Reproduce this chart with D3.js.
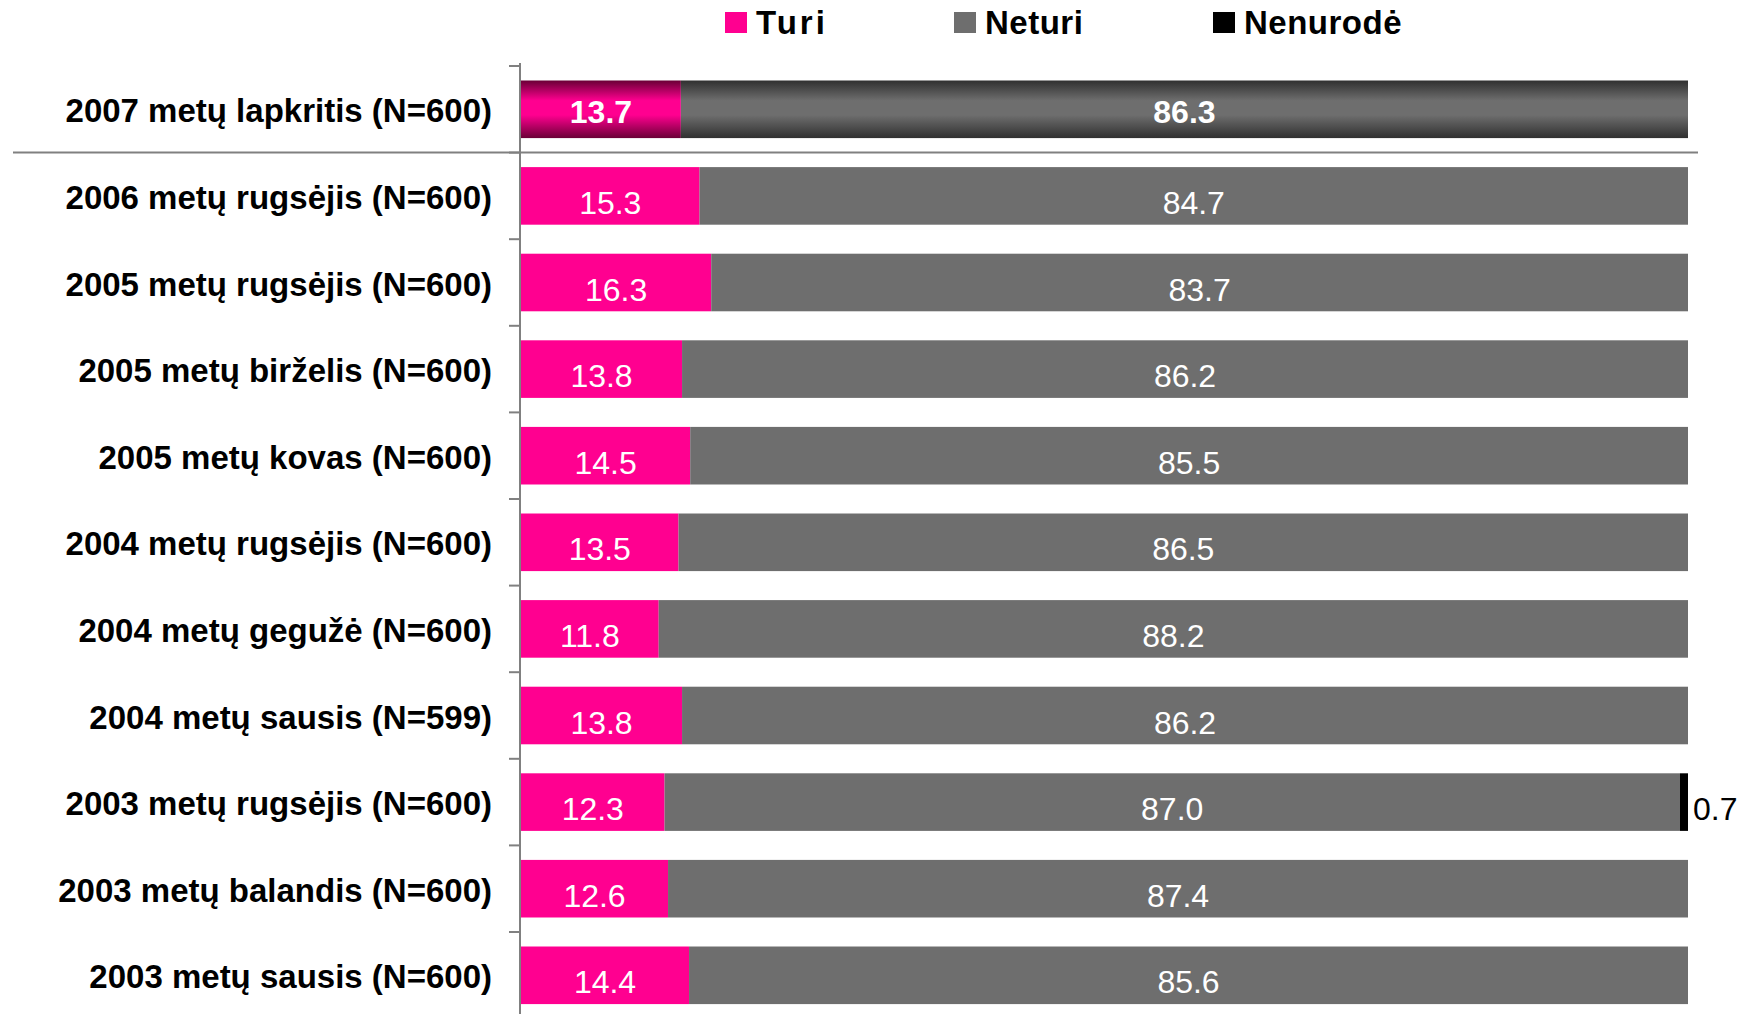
<!DOCTYPE html>
<html>
<head>
<meta charset="utf-8">
<script src="https://cdn.jsdelivr.net/npm/d3@7"></script>
<style>
  body { margin: 0; background: #fff; }
  svg text { font-family: "Liberation Sans", Arial, sans-serif; }
</style>
</head>
<body>
<div class="barChart"></div>
<script>
const categories = [
  "2007 metų lapkritis (N=600)",
  "2006 metų rugsėjis (N=600)",
  "2005 metų rugsėjis (N=600)",
  "2005 metų birželis (N=600)",
  "2005 metų kovas (N=600)",
  "2004 metų rugsėjis (N=600)",
  "2004 metų gegužė (N=600)",
  "2004 metų sausis (N=599)",
  "2003 metų rugsėjis (N=600)",
  "2003 metų balandis (N=600)",
  "2003 metų sausis (N=600)"
];
const seriesNames = ["Turi", "Neturi", "Nenurodė"];
const turi = [13.7, 15.3, 16.3, 13.8, 14.5, 13.5, 11.8, 13.8, 12.3, 12.6, 14.4];
const neturi = [86.3, 84.7, 83.7, 86.2, 85.5, 86.5, 88.2, 86.2, 87.0, 87.4, 85.6];
const nenurode = [0, 0, 0, 0, 0, 0, 0, 0, 0.7, 0, 0];
const colors = ["#ff0090", "#6e6e6e", "#000000"];

const width = 1749, height = 1014;
const margin = { top: 66, left: 521, right: 61 };

const svg = d3.select(".barChart").append("svg")
  .attr("width", width).attr("height", height);

const defs = svg.append("defs");
function addGradient(id, dark, light) {
  const g = defs.append("linearGradient").attr("id", id)
    .attr("x1", 0).attr("y1", 0).attr("x2", 0).attr("y2", 1);
  g.append("stop").attr("offset", "0%").attr("stop-color", dark);
  g.append("stop").attr("offset", "35%").attr("stop-color", light);
  g.append("stop").attr("offset", "60%").attr("stop-color", light);
  g.append("stop").attr("offset", "100%").attr("stop-color", dark);
}
addGradient("gradPink", "#6a0036", "#ff0090");
addGradient("gradGray", "#303030", "#6e6e6e");

const rows = categories.map((c, i) => ({
  cat: c, idx: i,
  vals: [turi[i], neturi[i], nenurode[i]]
}));

const x = d3.scaleLinear().domain([0, 100]).range([margin.left, width - margin.right]);
const y = d3.scaleBand().domain(categories)
  .range([margin.top, margin.top + 11 * 86.6])
  .paddingInner(0.335).paddingOuter(0.1675);

const stack = d3.stack().keys([0, 1, 2]).value((d, k) => d.vals[k]);
const stacked = stack(rows);

// bars
stacked.forEach((layer, k) => {
  svg.append("g").selectAll("rect")
    .data(layer)
    .enter()
    .append("rect")
    .attr("x", d => x(d[0]))
    .attr("width", d => x(d[1]) - x(d[0]))
    .attr("y", d => y(d.data.cat))
    .attr("height", y.bandwidth())
    .attr("fill", d => {
      if (d.data.idx === 0 && k === 0) return "url(#gradPink)";
      if (d.data.idx === 0 && k === 1) return "url(#gradGray)";
      return colors[k];
    });
});

// value labels
stacked.forEach((layer, k) => {
  const g = svg.append("g");
  layer.filter(d => d[1] - d[0] > 0).forEach(d => {
    const first = d.data.idx === 0;
    const t = g.append("text")
      .attr("y", y(d.data.cat) + y.bandwidth() / 2 + (first ? 14 : 18))
      .attr("font-size", 32)
      .text(d3.format(".1f")(d[1] - d[0]));
    if (k === 2) {
      t.attr("x", x(d[1]) + 5).attr("fill", "#000").attr("text-anchor", "start");
    } else {
      t.attr("x", (x(d[0]) + x(d[1])) / 2)
        .attr("fill", "#fff")
        .attr("text-anchor", "middle")
        .attr("font-weight", first ? "bold" : "normal");
    }
  });
});

// axis with ticks on band boundaries
const axisX = margin.left - 1;
const step = y.step();
const bounds = categories.map(c => y(c) - step * y.paddingInner() / 2);
svg.append("line")
  .attr("x1", axisX).attr("x2", axisX)
  .attr("y1", bounds[0] - 3).attr("y2", height)
  .attr("stroke", "#808080").attr("stroke-width", 2);
svg.append("g").selectAll("line")
  .data(bounds)
  .enter()
  .append("line")
  .attr("x1", axisX - 11).attr("x2", axisX)
  .attr("y1", d => d).attr("y2", d => d)
  .attr("stroke", "#808080").attr("stroke-width", 2);

// separator under the newest survey
const sepY = (y(categories[0]) + y.bandwidth() + y(categories[1])) / 2;
svg.append("line")
  .attr("x1", 13).attr("x2", 1698)
  .attr("y1", sepY).attr("y2", sepY)
  .attr("stroke", "#808080").attr("stroke-width", 2);

// category labels
svg.append("g").selectAll("text")
  .data(categories)
  .enter()
  .append("text")
  .attr("x", 492)
  .attr("y", d => y(d) + y.bandwidth() / 2 + 13)
  .attr("text-anchor", "end")
  .attr("font-size", 33)
  .attr("font-weight", "bold")
  .attr("fill", "#000")
  .text(d => d);

// legend
const legendX = [725, 954, 1213];
const legend = svg.append("g");
seriesNames.forEach((s, i) => {
  legend.append("rect")
    .attr("x", legendX[i]).attr("y", 12)
    .attr("width", 22).attr("height", 21)
    .attr("fill", colors[i]);
  legend.append("text")
    .attr("x", legendX[i] + 31).attr("y", 34)
    .attr("font-size", 33).attr("font-weight", "bold")
    .attr("fill", "#000")
    .attr("letter-spacing", i === 0 ? 3 : 0.5)
    .text(s);
});
</script>
</body>
</html>
